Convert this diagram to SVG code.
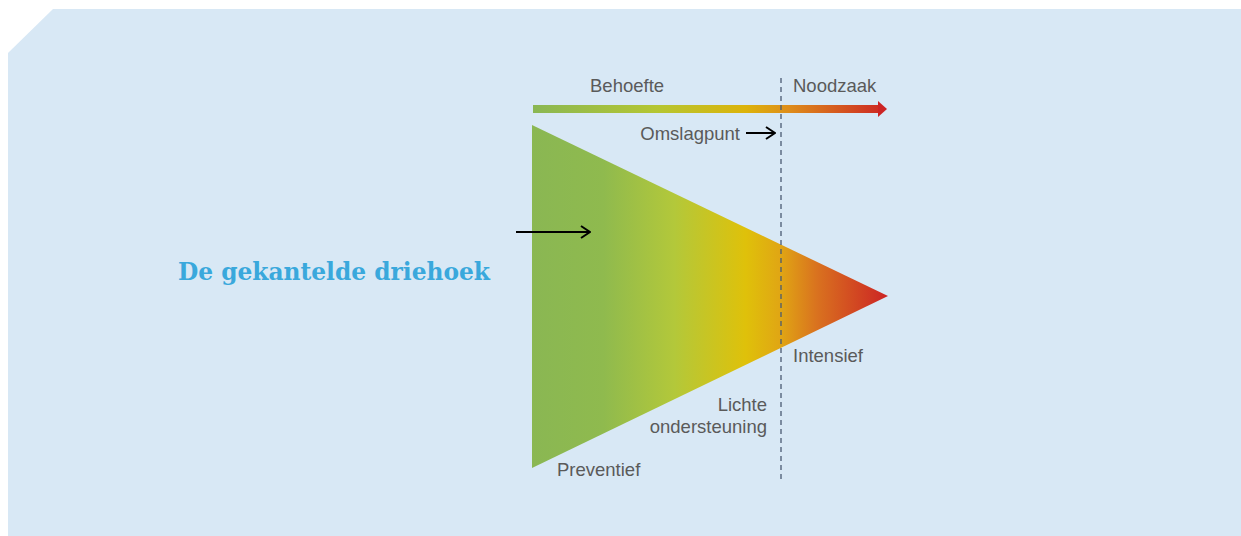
<svg xmlns="http://www.w3.org/2000/svg" width="1241" height="536" viewBox="0 0 1241 536">
<defs>
<linearGradient id="triGrad" gradientUnits="userSpaceOnUse" x1="532" y1="0" x2="888" y2="0">
<stop offset="0" stop-color="#8ab753"/>
<stop offset="0.2" stop-color="#8fba4e"/>
<stop offset="0.4" stop-color="#b3c83a"/>
<stop offset="0.6" stop-color="#dfc10a"/>
<stop offset="0.7" stop-color="#e0a514"/>
<stop offset="0.8" stop-color="#d9721f"/>
<stop offset="1" stop-color="#cc2424"/>
</linearGradient>
<linearGradient id="barGrad" gradientUnits="userSpaceOnUse" x1="533" y1="0" x2="887" y2="0">
<stop offset="0" stop-color="#8ab753"/>
<stop offset="0.35" stop-color="#b5c632"/>
<stop offset="0.6" stop-color="#dcb30a"/>
<stop offset="0.72" stop-color="#de8e1a"/>
<stop offset="1" stop-color="#cc2424"/>
</linearGradient>
<marker id="open" markerWidth="12" markerHeight="14" refX="11" refY="7" orient="auto" markerUnits="userSpaceOnUse">
<path d="M2,1 L11,7 L2,13" fill="none" stroke="#000" stroke-width="2"/>
</marker>
</defs>
<style>
.lbl{font-family:"Liberation Sans",Arial,sans-serif;font-size:18.5px;fill:#5a5a5a}
.title{font-family:"DejaVu Serif Condensed","DejaVu Serif","Liberation Serif",serif;font-size:25px;font-weight:bold;fill:#3aa8dc}
.arr{stroke:#000;stroke-width:2;fill:none}
</style>
<polygon points="53,9 1241,9 1241,536 8,536 8,53" fill="#d8e8f5"/>
<g id="triangle">
<polygon points="532,125 888,296 532,468" fill="url(#triGrad)"/>
</g>
<g id="scale-bar">
<rect x="533" y="105" width="346" height="8" fill="url(#barGrad)"/>
<polygon points="878,101 887,109 878,117" fill="#cc2424"/>
</g>
<g id="connectors">
<line x1="781" y1="78" x2="781" y2="482" stroke="#4a5a72" stroke-width="1.3" stroke-dasharray="5,4"/>
<line class="arr" x1="516" y1="232" x2="590" y2="232" marker-end="url(#open)"/>
<line class="arr" x1="746" y1="133" x2="775" y2="133" marker-end="url(#open)"/>
</g>
<g id="labels">
<text class="lbl" x="590" y="92">Behoefte</text>
<text class="lbl" x="793" y="92">Noodzaak</text>
<text class="lbl" x="740" y="140" text-anchor="end">Omslagpunt</text>
<text class="lbl" x="793" y="362">Intensief</text>
<text class="lbl" x="767" y="411" text-anchor="end">Lichte</text>
<text class="lbl" x="767" y="433" text-anchor="end">ondersteuning</text>
<text class="lbl" x="557" y="476">Preventief</text>
</g>
<g id="title">
<text class="title" x="178" y="280" textLength="312" lengthAdjust="spacingAndGlyphs">De gekantelde driehoek</text>
</g>
</svg>
